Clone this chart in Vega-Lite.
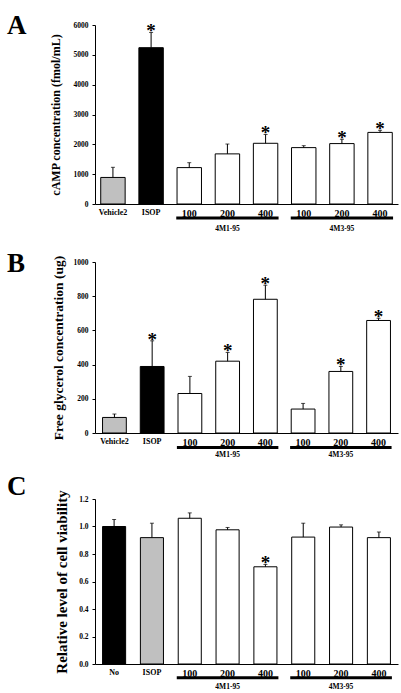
{
  "$schema": "https://vega.github.io/schema/vega-lite/v6.json",
  "padding": {"left": 7, "top": 12, "right": 2, "bottom": 1},
  "spacing": 17,
  "background": "white",
  "config": {
    "view": {"stroke": null},
    "axis": {"grid": false, "domainColor": "#000", "tickColor": "#000", "labelColor": "#000", "titleColor": "#000", "labelFont": "Liberation Serif", "titleFont": "Liberation Serif", "labelFontWeight": "bold", "titleFontWeight": "bold"},
    "axisY": {"labelOverlap": false, "labelSeparation": 0, "labelBound": false},
    "title": {"font": "Liberation Serif", "fontWeight": "bold", "fontSize": 27, "color": "#000", "anchor": "start", "frame": "group", "baseline": "top", "dx": -88}
  },
  "resolve": {"scale": {"x": "independent", "y": "independent", "fill": "independent"}},
  "datasets": {
    "bars": [
      {"panel": "A", "cat": "Vehicle2", "kind": "vehicle", "mean": 890, "upper": 1230, "sig": false},
      {"panel": "A", "cat": "ISOP", "kind": "ISOP", "mean": 5240, "upper": 5750, "sig": true},
      {"panel": "A", "cat": "100|4M1", "kind": "sample", "mean": 1220, "upper": 1385, "sig": false},
      {"panel": "A", "cat": "200|4M1", "kind": "sample", "mean": 1680, "upper": 2010, "sig": false},
      {"panel": "A", "cat": "400|4M1", "kind": "sample", "mean": 2035, "upper": 2330, "sig": true},
      {"panel": "A", "cat": "100|4M3", "kind": "sample", "mean": 1890, "upper": 1955, "sig": false},
      {"panel": "A", "cat": "200|4M3", "kind": "sample", "mean": 2025, "upper": 2170, "sig": true},
      {"panel": "A", "cat": "400|4M3", "kind": "sample", "mean": 2400, "upper": 2470, "sig": true},
      {"panel": "B", "cat": "Vehicle2", "kind": "vehicle", "mean": 91, "upper": 111, "sig": false},
      {"panel": "B", "cat": "ISOP", "kind": "ISOP", "mean": 389, "upper": 539, "sig": true},
      {"panel": "B", "cat": "100|4M1", "kind": "sample", "mean": 231, "upper": 331, "sig": false},
      {"panel": "B", "cat": "200|4M1", "kind": "sample", "mean": 420, "upper": 471, "sig": true},
      {"panel": "B", "cat": "400|4M1", "kind": "sample", "mean": 782, "upper": 864, "sig": true},
      {"panel": "B", "cat": "100|4M3", "kind": "sample", "mean": 140, "upper": 173, "sig": false},
      {"panel": "B", "cat": "200|4M3", "kind": "sample", "mean": 360, "upper": 389, "sig": true},
      {"panel": "B", "cat": "400|4M3", "kind": "sample", "mean": 658, "upper": 671, "sig": true},
      {"panel": "C", "cat": "No", "kind": "none", "mean": 1.0, "upper": 1.051, "sig": false},
      {"panel": "C", "cat": "ISOP", "kind": "ISOP", "mean": 0.919, "upper": 1.024, "sig": false},
      {"panel": "C", "cat": "100|4M1", "kind": "sample", "mean": 1.06, "upper": 1.099, "sig": false},
      {"panel": "C", "cat": "200|4M1", "kind": "sample", "mean": 0.976, "upper": 0.993, "sig": false},
      {"panel": "C", "cat": "400|4M1", "kind": "sample", "mean": 0.707, "upper": 0.724, "sig": true},
      {"panel": "C", "cat": "100|4M3", "kind": "sample", "mean": 0.923, "upper": 1.024, "sig": false},
      {"panel": "C", "cat": "200|4M3", "kind": "sample", "mean": 0.996, "upper": 1.012, "sig": false},
      {"panel": "C", "cat": "400|4M3", "kind": "sample", "mean": 0.919, "upper": 0.96, "sig": false}
    ],
    "groups": [
      {"name": "4M1-95", "first": "100|4M1", "mid": "200|4M1", "last": "400|4M1"},
      {"name": "4M3-95", "first": "100|4M3", "mid": "200|4M3", "last": "400|4M3"}
    ]
  },
  "vconcat": [
    {
      "width": 303, "height": 179,
      "title": {"text": "A", "dy": 23},
      "layer": [
        {
          "data": {"name": "bars"},
          "transform": [{"filter": "datum.panel === 'A'"}],
          "mark": {"type": "bar", "stroke": "#000", "strokeWidth": 1},
          "encoding": {
            "x": {"field": "cat", "type": "nominal", "sort": null,
              "scale": {"domain": ["Vehicle2", "ISOP", "100|4M1", "200|4M1", "400|4M1", "100|4M3", "200|4M3", "400|4M3"], "paddingInner": 0.36, "paddingOuter": 0.15},
              "axis": {"title": null, "ticks": false, "labelAngle": 0, "labelPadding": 4, "labelExpr": "split(datum.value, '|')[0]", "labelFontSize": {"condition": {"test": "indexof(datum.value, '|') >= 0", "value": 10}, "value": 8}}},
            "y": {"field": "mean", "type": "quantitative", "scale": {"domain": [0, 6000], "nice": false},
              "axis": {"title": "cAMP concentration (fmol/mL)", "titleFontSize": 12, "tickCount": 6, "format": "d", "labelOverlap": false, "labelFontSize": 7.5, "tickSize": 3, "labelPadding": 4, "titlePadding": 11}},
            "fill": {"field": "kind", "type": "nominal", "legend": null, "scale": {"domain": ["vehicle", "ISOP", "sample"], "range": ["#c0c0c0", "#000000", "#ffffff"]}}
          }
        },
        {
          "data": {"name": "bars"},
          "transform": [{"filter": "datum.panel === 'A'"}],
          "mark": {"type": "rule", "color": "#000", "strokeWidth": 1},
          "encoding": {"x": {"field": "cat", "type": "nominal", "sort": null}, "y": {"field": "mean", "type": "quantitative"}, "y2": {"field": "upper"}}
        },
        {
          "data": {"name": "bars"},
          "transform": [{"filter": "datum.panel === 'A'"}],
          "mark": {"type": "tick", "color": "#000", "size": 4, "thickness": 1},
          "encoding": {"x": {"field": "cat", "type": "nominal", "sort": null}, "y": {"field": "upper", "type": "quantitative"}}
        },
        {
          "data": {"name": "bars"},
          "transform": [{"filter": "datum.panel === 'A' && datum.sig"}],
          "mark": {"type": "text", "text": "*", "font": "Liberation Serif", "fontWeight": "bold", "fontSize": 19, "baseline": "alphabetic", "dy": 5, "color": "#000"},
          "encoding": {"x": {"field": "cat", "type": "nominal", "sort": null}, "y": {"field": "upper", "type": "quantitative"}}
        },
        {
          "data": {"name": "groups"},
          "mark": {"type": "rule", "color": "#000", "strokeWidth": 3, "xOffset": -13, "x2Offset": 13},
          "encoding": {"x": {"field": "first", "type": "nominal"}, "x2": {"field": "last"}, "y": {"datum": -470}}
        },
        {
          "data": {"name": "groups"},
          "mark": {"type": "text", "font": "Liberation Serif", "fontWeight": "bold", "fontSize": 7.5, "baseline": "middle", "color": "#000"},
          "encoding": {"x": {"field": "mid", "type": "nominal"}, "y": {"datum": -830}, "text": {"field": "name"}}
        }
      ]
    },
    {
      "spacing": 13,
      "resolve": {"scale": {"x": "independent", "y": "independent", "fill": "independent"}},
      "vconcat": [
        {
          "width": 303, "height": 171,
          "title": {"text": "B", "dy": 27},
          "layer": [
            {
              "data": {"name": "bars"},
              "transform": [{"filter": "datum.panel === 'B'"}],
              "mark": {"type": "bar", "stroke": "#000", "strokeWidth": 1},
              "encoding": {
                "x": {"field": "cat", "type": "nominal", "sort": null,
                  "scale": {"domain": ["Vehicle2", "ISOP", "100|4M1", "200|4M1", "400|4M1", "100|4M3", "200|4M3", "400|4M3"], "paddingInner": 0.37, "paddingOuter": 0.2},
                  "axis": {"title": null, "ticks": false, "labelAngle": 0, "labelPadding": 4, "labelExpr": "split(datum.value, '|')[0]", "labelFontSize": {"condition": {"test": "indexof(datum.value, '|') >= 0", "value": 10}, "value": 8}}},
                "y": {"field": "mean", "type": "quantitative", "scale": {"domain": [0, 1000], "nice": false},
                  "axis": {"title": "Free glycerol concentration (ug)", "titleFontSize": 13.5, "tickCount": 5, "format": "d", "labelOverlap": false, "labelFontSize": 7.5, "tickSize": 3, "labelPadding": 4, "titlePadding": 8}},
                "fill": {"field": "kind", "type": "nominal", "legend": null, "scale": {"domain": ["vehicle", "ISOP", "sample"], "range": ["#c0c0c0", "#000000", "#ffffff"]}}
              }
            },
            {
              "data": {"name": "bars"},
              "transform": [{"filter": "datum.panel === 'B'"}],
              "mark": {"type": "rule", "color": "#000", "strokeWidth": 1},
              "encoding": {"x": {"field": "cat", "type": "nominal", "sort": null}, "y": {"field": "mean", "type": "quantitative"}, "y2": {"field": "upper"}}
            },
            {
              "data": {"name": "bars"},
              "transform": [{"filter": "datum.panel === 'B'"}],
              "mark": {"type": "tick", "color": "#000", "size": 4, "thickness": 1},
              "encoding": {"x": {"field": "cat", "type": "nominal", "sort": null}, "y": {"field": "upper", "type": "quantitative"}}
            },
            {
              "data": {"name": "bars"},
              "transform": [{"filter": "datum.panel === 'B' && datum.sig"}],
              "mark": {"type": "text", "text": "*", "font": "Liberation Serif", "fontWeight": "bold", "fontSize": 19, "baseline": "alphabetic", "dy": 5, "color": "#000"},
              "encoding": {"x": {"field": "cat", "type": "nominal", "sort": null}, "y": {"field": "upper", "type": "quantitative"}}
            },
            {
              "data": {"name": "groups"},
              "mark": {"type": "rule", "color": "#000", "strokeWidth": 3, "xOffset": -13, "x2Offset": 13},
              "encoding": {"x": {"field": "first", "type": "nominal"}, "x2": {"field": "last"}, "y": {"datum": -85}}
            },
            {
              "data": {"name": "groups"},
              "mark": {"type": "text", "font": "Liberation Serif", "fontWeight": "bold", "fontSize": 7.5, "baseline": "middle", "color": "#000"},
              "encoding": {"x": {"field": "mid", "type": "nominal"}, "y": {"datum": -130}, "text": {"field": "name"}}
            }
          ]
        },
        {
          "width": 303, "height": 165,
          "title": {"text": "C", "dy": 15},
          "layer": [
            {
              "data": {"name": "bars"},
              "transform": [{"filter": "datum.panel === 'C'"}],
              "mark": {"type": "bar", "stroke": "#000", "strokeWidth": 1},
              "encoding": {
                "x": {"field": "cat", "type": "nominal", "sort": null,
                  "scale": {"domain": ["No", "ISOP", "100|4M1", "200|4M1", "400|4M1", "100|4M3", "200|4M3", "400|4M3"], "paddingInner": 0.39, "paddingOuter": 0.2},
                  "axis": {"title": null, "ticks": false, "labelAngle": 0, "labelPadding": 4, "labelExpr": "split(datum.value, '|')[0]", "labelFontSize": {"condition": {"test": "indexof(datum.value, '|') >= 0", "value": 10}, "value": 8}}},
                "y": {"field": "mean", "type": "quantitative", "scale": {"domain": [0, 1.2], "nice": false},
                  "axis": {"title": "Relative level of cell viability", "titleFontSize": 15, "tickCount": 6, "format": ".1f", "labelOverlap": false, "labelFontSize": 7.5, "tickSize": 3, "labelPadding": 4, "titlePadding": 9}},
                "fill": {"field": "kind", "type": "nominal", "legend": null, "scale": {"domain": ["none", "ISOP", "sample"], "range": ["#000000", "#c0c0c0", "#ffffff"]}}
              }
            },
            {
              "data": {"name": "bars"},
              "transform": [{"filter": "datum.panel === 'C'"}],
              "mark": {"type": "rule", "color": "#000", "strokeWidth": 1},
              "encoding": {"x": {"field": "cat", "type": "nominal", "sort": null}, "y": {"field": "mean", "type": "quantitative"}, "y2": {"field": "upper"}}
            },
            {
              "data": {"name": "bars"},
              "transform": [{"filter": "datum.panel === 'C'"}],
              "mark": {"type": "tick", "color": "#000", "size": 4, "thickness": 1},
              "encoding": {"x": {"field": "cat", "type": "nominal", "sort": null}, "y": {"field": "upper", "type": "quantitative"}}
            },
            {
              "data": {"name": "bars"},
              "transform": [{"filter": "datum.panel === 'C' && datum.sig"}],
              "mark": {"type": "text", "text": "*", "font": "Liberation Serif", "fontWeight": "bold", "fontSize": 19, "baseline": "alphabetic", "dy": 5, "color": "#000"},
              "encoding": {"x": {"field": "cat", "type": "nominal", "sort": null}, "y": {"field": "upper", "type": "quantitative"}}
            },
            {
              "data": {"name": "groups"},
              "mark": {"type": "rule", "color": "#000", "strokeWidth": 3, "xOffset": -13, "x2Offset": 13},
              "encoding": {"x": {"field": "first", "type": "nominal"}, "x2": {"field": "last"}, "y": {"datum": -0.1}}
            },
            {
              "data": {"name": "groups"},
              "mark": {"type": "text", "font": "Liberation Serif", "fontWeight": "bold", "fontSize": 7.5, "baseline": "middle", "color": "#000"},
              "encoding": {"x": {"field": "mid", "type": "nominal"}, "y": {"datum": -0.165}, "text": {"field": "name"}}
            }
          ]
        }
      ]
    }
  ]
}
